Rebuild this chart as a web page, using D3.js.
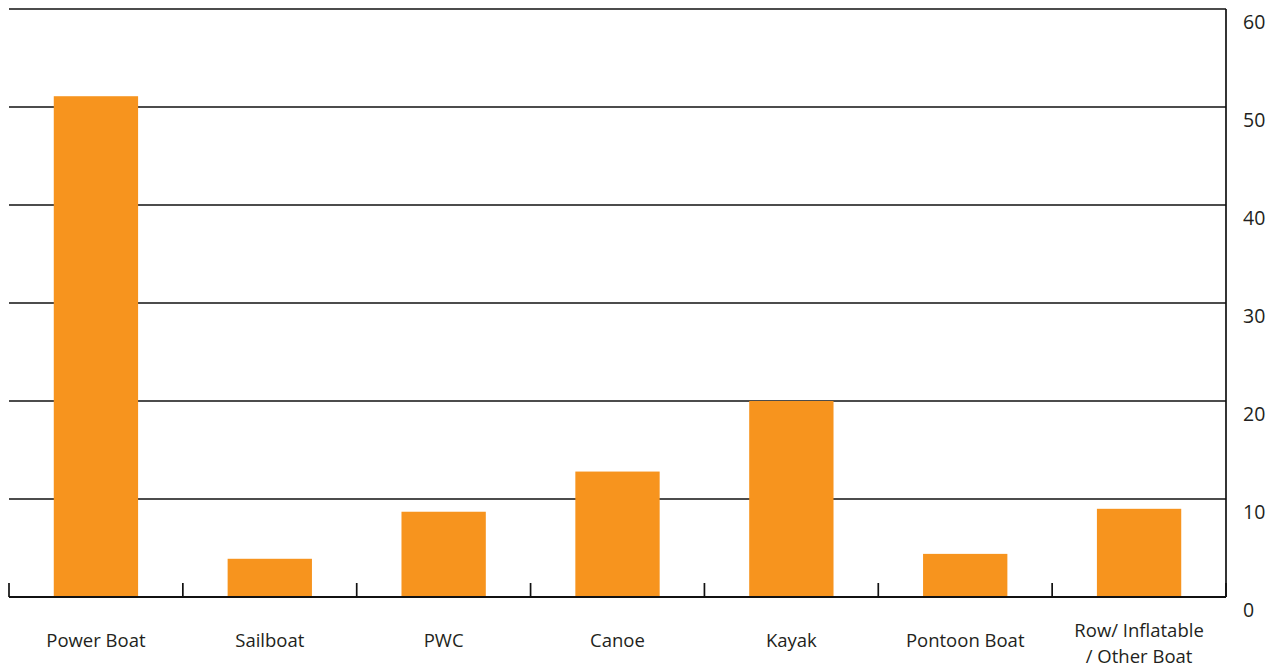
<!DOCTYPE html>
<html><head><meta charset="utf-8">
<script src="https://cdn.jsdelivr.net/npm/d3@7"></script>
<style>body{margin:0;background:#fff}svg{display:block}text{font-family:"Open Sans",sans-serif;fill:#231f20}</style>
</head><body><svg id="c" width="1282" height="671"></svg>
<script>
const categories = ["Power Boat","Sailboat","PWC","Canoe","Kayak","Pontoon Boat","Row/ Inflatable\n/ Other Boat"];
const values = [51.1, 3.9, 8.7, 12.8, 20.0, 4.4, 9.0];
const yTicks = [0,10,20,30,40,50,60];

(function(){
const svg = d3.select("#c");
const mL = 9, mR = 1226, mT = 9, mB = 597;
const x = d3.scaleBand().domain(categories).range([mL, mR]).paddingInner(0).paddingOuter(0);
const y = d3.scaleLinear().domain([0,60]).range([mB, mT]);

svg.append("g").selectAll("line").data(yTicks.filter(d=>d>0)).join("line")
  .attr("x1", mL).attr("x2", mR).attr("y1", d=>y(d)).attr("y2", d=>y(d))
  .attr("stroke","#111").attr("stroke-width",1.7);

const bw = x.bandwidth()*0.485;
svg.append("g").selectAll("rect").data(values).join("rect")
  .attr("x",(d,i)=>x(categories[i])+x.bandwidth()/2-bw/2)
  .attr("width",bw)
  .attr("y",d=>y(d)).attr("height",d=>y(0)-y(d))
  .attr("fill","#F7941E");

svg.append("line").attr("x1",mR).attr("x2",mR).attr("y1",mT).attr("y2",mB)
  .attr("stroke","#111").attr("stroke-width",1.7);
svg.append("line").attr("x1",mL).attr("x2",mR).attr("y1",mB).attr("y2",mB)
  .attr("stroke","#111").attr("stroke-width",2.2);
const bounds = categories.map(c=>x(c)).concat([mR]);
svg.append("g").selectAll("line").data(bounds).join("line")
  .attr("x1",d=>d).attr("x2",d=>d).attr("y1",583).attr("y2",mB)
  .attr("stroke","#111").attr("stroke-width",1.7);

svg.append("g").selectAll("text").data(yTicks).join("text")
  .attr("x",1243).attr("y",d=>y(d)+20).attr("font-size",19.5).text(d=>d);

svg.append("g").selectAll("text").data(categories).join("text")
  .attr("text-anchor","middle").attr("font-size",18.5)
  .each(function(d){
    const lines = d.split("\n");
    const t = d3.select(this);
    const y0 = lines.length>1 ? 637 : 647;
    lines.forEach((l,i)=>t.append("tspan").attr("x",x(d)+x.bandwidth()/2).attr("y",y0+i*26).text(l));
  });
})();
</script></body></html>
